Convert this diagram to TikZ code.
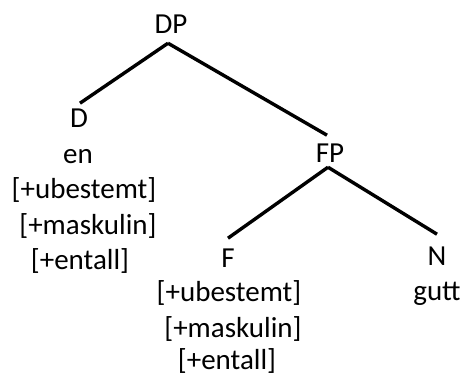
\documentclass[tikz,border=0pt]{standalone}
\usepackage{fontspec}
\setmainfont{Carlito}
\begin{document}
\begin{tikzpicture}[x=1pt,y=-1pt,
  lbl/.style={anchor=base,inner sep=0pt,font=\fontsize{29}{35}\selectfont},
  branch/.style={line width=3.4pt}]
\useasboundingbox (0,0) rectangle (464,376);
% category labels
\node[lbl] (DP) at (171,33) {DP};
\node[lbl] (D)  at (79,127) {D};
\node[lbl] (FP) at (330,162) {FP};
\node[lbl] (F)  at (228,267) {F};
\node[lbl] (N)  at (437,265) {N};
% lexical material and features
\node[lbl] (en)  at (78,163) {en};
\node[lbl] (d1)  at (84,198) {[+ubestemt]};
\node[lbl] (d2)  at (88,234) {[+maskulin]};
\node[lbl] (d3)  at (80,269) {[+entall]};
\node[lbl] (f1)  at (229,301) {[+ubestemt]};
\node[lbl] (f2)  at (233,337) {[+maskulin]};
\node[lbl] (f3)  at (227,369) {[+entall]};
\node[lbl] (gutt) at (437,300) {gutt};
% branches
\draw[branch] ([xshift=-3pt,yshift=-10pt]DP.south) -- ([xshift=1pt,yshift=5pt]D.north);
\draw[branch] ([xshift=-3pt,yshift=-10pt]DP.south) -- ([xshift=-3pt,yshift=8pt]FP.north);
\draw[branch] ([xshift=-2pt,yshift=-5pt]FP.south) -- ([yshift=10pt]F.north);
\draw[branch] ([xshift=-2pt,yshift=-5pt]FP.south) -- ([yshift=12pt]N.north);
\end{tikzpicture}
\end{document}
